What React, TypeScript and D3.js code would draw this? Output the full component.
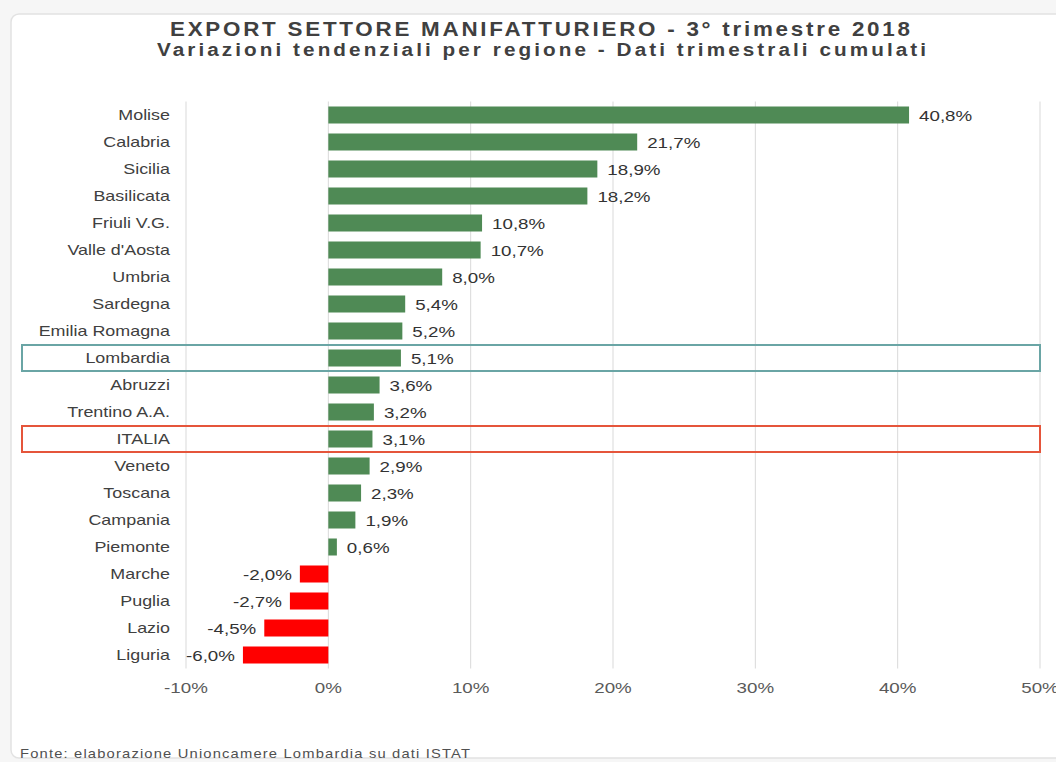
import React, { useRef, useEffect } from "react";
import * as d3 from "d3";

const regions = [
  "Molise", "Calabria", "Sicilia", "Basilicata", "Friuli V.G.", "Valle d'Aosta",
  "Umbria", "Sardegna", "Emilia Romagna", "Lombardia", "Abruzzi", "Trentino A.A.",
  "ITALIA", "Veneto", "Toscana", "Campania", "Piemonte", "Marche", "Puglia",
  "Lazio", "Liguria",
];
const values = [
  40.8, 21.7, 18.9, 18.2, 10.8, 10.7, 8.0, 5.4, 5.2, 5.1, 3.6, 3.2, 3.1, 2.9,
  2.3, 1.9, 0.6, -2.0, -2.7, -4.5, -6.0,
];
const xTicks = [-10, 0, 10, 20, 30, 40, 50];
const highlights = [
  { name: "Lombardia", color: "#6aa5a5" },
  { name: "ITALIA", color: "#e5553b" },
];

const fmt = (v: number) => v.toFixed(1).replace(".", ",") + "%";

export default function App() {
  const ref = useRef<SVGSVGElement>(null);

  useEffect(() => {
    const svg = d3.select(ref.current);
    svg.selectAll("*").remove();

    const width = 1056;
    const height = 762;
    const font = "Liberation Sans, Arial, sans-serif";

    const x = d3.scaleLinear().domain([-10, 50]).range([186, 1040]);
    const y = d3
      .scaleBand()
      .domain(regions)
      .range([101.5, 101.5 + 27 * regions.length])
      .paddingInner(0.37)
      .paddingOuter(0.185);

    // background + faint card edge
    svg.append("rect").attr("width", width).attr("height", height).attr("fill", "#f6f6f6");
    svg
      .append("rect")
      .attr("x", 11)
      .attr("y", 14)
      .attr("rx", 8)
      .attr("width", width)
      .attr("height", height - 18)
      .attr("fill", "#fff")
      .attr("stroke", "#e2e2e2")
      .attr("stroke-width", 1.5);

    // titles (glyphs slightly widened, rest made up with spacing)
    const sx = 1.12;
    svg
      .append("text")
      .attr("transform", `translate(170,36) scale(${sx},1)`)
      .attr("font-family", font)
      .attr("font-size", 20)
      .attr("font-weight", "bold")
      .attr("fill", "#404040")
      .attr("textLength", 740 / sx)
      .attr("lengthAdjust", "spacing")
      .text("EXPORT SETTORE MANIFATTURIERO  - 3° trimestre 2018");
    svg
      .append("text")
      .attr("transform", `translate(157,55.5) scale(${sx},1)`)
      .attr("font-family", font)
      .attr("font-size", 18.5)
      .attr("font-weight", "bold")
      .attr("fill", "#404040")
      .attr("textLength", 769 / sx)
      .attr("lengthAdjust", "spacing")
      .text("Variazioni tendenziali per regione - Dati trimestrali cumulati");

    // grid
    const [y0, y1] = y.range();
    svg
      .append("g")
      .selectAll("line")
      .data(xTicks)
      .join("line")
      .attr("x1", (d) => x(d))
      .attr("x2", (d) => x(d))
      .attr("y1", y0)
      .attr("y2", y1)
      .attr("stroke", "#d9d9d9")
      .attr("stroke-width", 1);

    svg
      .append("g")
      .selectAll("text")
      .data(xTicks)
      .join("text")
      .attr("transform", (d) => `translate(${x(d)},693) scale(1.25,1)`)
      .attr("text-anchor", "middle")
      .attr("font-family", font)
      .attr("font-size", 15)
      .attr("fill", "#5a5a5a")
      .text((d) => d + "%");

    // highlight boxes
    svg
      .append("g")
      .selectAll("rect")
      .data(highlights)
      .join("rect")
      .attr("x", 22)
      .attr("y", (d) => y(d.name)! + y.bandwidth() / 2 - 13)
      .attr("width", 1040 - 22)
      .attr("height", 26)
      .attr("fill", "none")
      .attr("stroke", (d) => d.color)
      .attr("stroke-width", 2);

    // category labels
    svg
      .append("g")
      .selectAll("text")
      .data(regions)
      .join("text")
      .attr("transform", (d) => `translate(170,${y(d)! + y.bandwidth() / 2}) scale(1.28,1)`)
      .attr("dy", "0.35em")
      .attr("text-anchor", "end")
      .attr("font-family", font)
      .attr("font-size", 14)
      .attr("fill", "#404040")
      .text((d) => d);

    const data = regions.map((r, i) => ({ r, v: values[i] }));

    svg
      .append("g")
      .selectAll("rect")
      .data(data)
      .join("rect")
      .attr("x", (d) => x(Math.min(0, d.v)))
      .attr("y", (d) => y(d.r)!)
      .attr("width", (d) => Math.abs(x(d.v) - x(0)))
      .attr("height", y.bandwidth())
      .attr("fill", (d) => (d.v < 0 ? "#ff0000" : "#4f8a55"));

    svg
      .append("g")
      .selectAll("text")
      .data(data)
      .join("text")
      .attr(
        "transform",
        (d) =>
          `translate(${d.v < 0 ? x(d.v) - 8 : x(d.v) + 10},${y(d.r)! + y.bandwidth() / 2}) scale(1.25,1)`
      )
      .attr("dy", "0.38em")
      .attr("text-anchor", (d) => (d.v < 0 ? "end" : "start"))
      .attr("font-family", font)
      .attr("font-size", 15)
      .attr("fill", "#333")
      .text((d) => fmt(d.v));

    const fx = 1.18;
    svg
      .append("text")
      .attr("transform", `translate(20,758) scale(${fx},1)`)
      .attr("font-family", font)
      .attr("font-size", 12.5)
      .attr("fill", "#505050")
      .attr("textLength", 450 / fx)
      .attr("lengthAdjust", "spacing")
      .text("Fonte: elaborazione  Unioncamere  Lombardia  su dati ISTAT");
  }, []);

  return (
    <svg
      ref={ref}
      width={1056}
      height={762}
      style={{ position: "absolute", left: 0, top: 0 }}
    />
  );
}
